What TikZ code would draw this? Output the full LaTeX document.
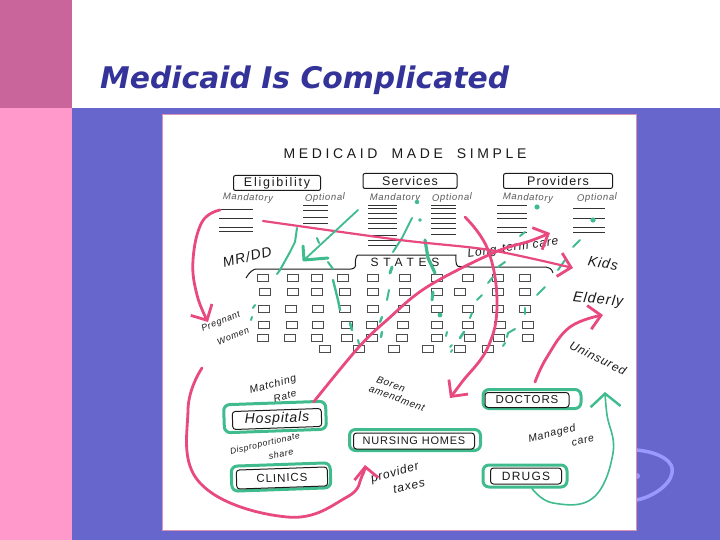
\documentclass[tikz,border=0pt]{standalone}
\usepackage{fontspec}
\setmainfont{Liberation Sans}
\newfontfamily\titlefont{DejaVu Sans}
\usetikzlibrary{arrows.meta,bending}
\definecolor{darkpink}{HTML}{C9659A}
\definecolor{lightpink}{HTML}{FF99CC}
\definecolor{slide}{HTML}{6666CC}
\definecolor{titleblue}{HTML}{333399}
\definecolor{pinkline}{HTML}{E8497F}
\definecolor{greenline}{HTML}{3FBB8E}
\definecolor{inkline}{HTML}{1A1A1A}
\definecolor{swirl}{HTML}{9999FF}
\tikzset{
  x=1pt,y=-1pt,
  hand/.style={font=\fontsize{#1}{#1}\selectfont\itshape\addfontfeature{LetterSpace=7},text=inkline,inner sep=0pt,align=center},
  hand/.default=10,
  headbox/.style={draw=inkline,line width=1pt,rounded corners=2pt,minimum height=15pt,inner sep=0pt,font=\fontsize{12.5}{13}\selectfont\addfontfeature{LetterSpace=9},text=inkline},
  provbox/.style={draw=inkline,line width=1pt,rounded corners=3pt,minimum height=15pt,inner sep=0pt,text=inkline},
  halo/.style={draw=greenline,line width=3pt,rounded corners=6pt,inner sep=0pt},
  statebox/.style={draw=black!70,line width=.7pt,minimum width=11pt,minimum height=6.5pt,inner sep=0pt},
  pinkarrow/.style={draw=pinkline,line width=2.8pt,line cap=round,line join=round,-{Straight Barb[length=12pt,width=24pt,line width=2.8pt,quick]}},
  greenarrow/.style={draw=greenline,line cap=round,line join=round},
  bit/.style={draw=greenline,line width=2pt,line cap=round},
  subline/.style={draw=black!80,line width=.7pt},
}
\begin{document}
\begin{tikzpicture}
\useasboundingbox (0,0) rectangle (720,540);
% slide background
\fill[white] (0,0) rectangle (720,540);
\fill[darkpink] (0,0) rectangle (72,108);
\fill[lightpink] (0,108) rectangle (72,540);
\fill[slide] (72,108) rectangle (720,540);
\draw[swirl,line width=3.5pt] (636,450) .. controls (660,452) and (675,462) .. (672,473) .. controls (670,486) and (650,498) .. (636,500);
\fill[swirl] (637,476) circle (3);
\node[anchor=base west,inner sep=0pt,text=titleblue,font=\fontsize{29.8}{30}\titlefont\bfseries\itshape] (title) at (100,89) {Medicaid Is Complicated};
% panel
\fill[white] (162.5,114.5) rectangle (636,530);
\draw[color=darkpink!70,line width=1pt] (162.5,114.5) rectangle (636,530);
% headings
\node[inner sep=0pt,text=inkline,font=\fontsize{14}{15}\selectfont] (heading) at (405,154) {\addfontfeature{LetterSpace=26}MEDICAID\quad MADE\quad SIMPLE};
\node[headbox,minimum width=87pt] (elig) at (277,183) {\addfontfeature{LetterSpace=14}Eligibility};
\node[headbox,minimum width=94pt] (serv) at (410,181) {Services};
\node[headbox,minimum width=109pt] (prov) at (558,181) {Providers};
\foreach \n/\x/\t/\r in {m1/248/Mandatory/-2,o1/325/Optional/2,m2/395/Mandatory/0,o2/452/Optional/2,m3/528/Mandatory/-2,o3/597/Optional/2}
  \node[hand=9.5,rotate=\r,text=black!65] (\n) at (\x,198) {\t};
% sub lists
\foreach \y in {209,218,227,231} \draw[subline] (219,\y) -- (253,\y);
\foreach \y in {205,210,217,223} \draw[subline] (303,\y) -- (328,\y);
\foreach \y in {205,208,213,218,223,228,235,240,245} \draw[subline] (368,\y) -- (397,\y);
\foreach \y in {205,208,213,218,223,228,234} \draw[subline] (431,\y) -- (456,\y);
\foreach \y in {205,213,218,227,232} \draw[subline] (497,\y) -- (527,\y);
\foreach \y in {208,218,227,232} \draw[subline] (573,\y) -- (605,\y);
% states frame
\coordinate (fa) at (246,278);\coordinate (fb) at (553,273);
\draw[inkline,line width=1pt,rounded corners=6pt] (fa) .. controls (249,272) and (254,269) .. (262,269) -- (357,269) .. controls (355,262) and (356,255) .. (364,255) -- (450,255) .. controls (456,255) and (455,266) .. (464,267) -- (540,267) .. controls (549,267) and (552,269) .. (fb);
\node[inner sep=0pt,text=inkline,font=\fontsize{12}{12}\selectfont] (states) at (405,262) {\addfontfeature{LetterSpace=40}STATES};
% state boxes
\foreach \r/\y/\xs in {
 a/278/{263,293,317,343,373,405,437,468,498,525},
 b/292/{265,293,317,345,373,405,437,460,498,525},
 c/309/{264,291,318,345,373,404,437,468,498,525},
 d/325/{264,292,318,347,372,403,437,468,500,528},
 e/338/{263,290,317,347,372,402,437,470,499,528},
 f/349/{325,359,394,428,460,488}}
 \foreach \x [count=\c] in \xs
  \node[statebox] (s\r\c) at (\x,\y) {};
% green bits
\draw[bit] (297,228) -- (295,242) -- (290,252) -- (280,270) -- (277,274);
\draw[bit] (317,238) -- (319,243);
\draw[bit] (328,262) -- (333,269);
\draw[bit] (412,218) -- (402,238) -- (393,252);
\draw[bit,line width=3.2pt] (425,240) -- (428,258) -- (435,273);
\draw[bit] (525,232) -- (520,236);
\draw[bit] (580,240) -- (573,247);
\draw[bit] (505,262) -- (498,267);
\draw[bit] (565,260) -- (558,270);
\draw[bit] (493,277) -- (488,283);
\draw[bit] (545,287) -- (537,295);
\draw[bit,line width=3pt] (392,267) -- (390,273);
\draw[bit] (389,290) -- (387,300);
\draw[bit] (482,295) -- (477,300);
\draw[bit,line width=2.4pt] (333,280) -- (338,300) -- (340,310);
\draw[bit,line width=3pt] (433,292) -- (432,300);
\draw[bit] (472,313) -- (470,318);
\draw[bit] (525,308) -- (525,314);
\draw[bit] (255,305) -- (253,308);
\draw[bit] (252,317) -- (251,320);
\draw[bit,line width=2.6pt] (350,323) -- (352,330);
\draw[bit,line width=2.4pt] (382,317) -- (380,322);
\draw[bit,line width=2.4pt] (382,332) -- (381,337);
\draw[bit] (358,340) -- (359,344);
\draw[bit] (447,332) -- (446,336);
\draw[bit,line width=2.6pt] (464,332) -- (460,338);
\draw[bit] (515,329) -- (508,333) -- (507,337);
\draw[bit] (505,343) -- (503,346);
\draw[bit] (452,345) -- (450,347);\draw[bit] (452,350) -- (451,352);
\fill[greenline] (417,202) circle (2.2) (537,207) circle (2.6) (593,220) circle (2.6) (420,220) circle (1.8) (440,315) circle (2.4);
% provider boxes
\node[halo,minimum width=102pt,minimum height=28pt,rotate=2] (hhalo) at (275,417) {};
\node[provbox,minimum width=89pt,minimum height=18pt,rotate=2,font=\fontsize{14}{15}\selectfont\itshape\addfontfeature{LetterSpace=6}] (hosp) at (277,419) {Hospitals};
\node[halo,minimum width=131pt,minimum height=21pt] (nhalo) at (415,440) {};
\node[provbox,minimum width=121pt,minimum height=16pt,font=\fontsize{11}{12}\selectfont\addfontfeature{LetterSpace=7}] (nurs) at (414,441) {NURSING HOMES};
\node[halo,minimum width=99pt,minimum height=25pt,rotate=2] (chalo) at (281,477) {};
\node[provbox,minimum width=91pt,minimum height=19pt,rotate=2,font=\fontsize{11.5}{12}\selectfont\addfontfeature{LetterSpace=8}] (clin) at (282,478) {CLINICS};
\node[halo,minimum width=98pt,minimum height=19pt] (dhalo) at (532,399) {};
\node[provbox,minimum width=84pt,minimum height=15pt,font=\fontsize{11.5}{12}\selectfont\addfontfeature{LetterSpace=8}] (doct) at (527,400) {DOCTORS};
\node[halo,minimum width=84pt,minimum height=22pt] (rhalo) at (525,476) {};
\node[provbox,minimum width=71pt,minimum height=16pt,font=\fontsize{12}{12}\selectfont\addfontfeature{LetterSpace=10}] (drug) at (526,476) {DRUGS};
% handwritten labels
\node[hand=14,rotate=14] (mrdd) at (247,257) {MR/DD};
\node[hand=12,rotate=8] (ltc) at (513,248) {Long-term care};
\node[hand=14,rotate=-10] (kids) at (603,263) {Kids};
\node[hand=14.5,rotate=-6] (eld) at (598,300) {Elderly};
\node[hand=12,rotate=-26] (unin) at (598,358) {Uninsured};
\node[hand=9,rotate=22] (preg) at (221,322) {Pregnant};
\node[hand=9,rotate=22] (wom) at (233,336) {Women};
\node[hand=10.5,rotate=15] (match) at (273,385) {Matching};
\node[hand=10,rotate=15] (rate) at (285,396) {Rate};
\node[hand=10,rotate=-20] (boren) at (391,384) {Boren};
\node[hand=10,rotate=-20] (amend) at (397,398) {amendment};
\node[hand=8.5,rotate=13] (disp) at (265,444) {Disproportionate};
\node[hand=9,rotate=11] (share) at (281,454) {share};
\node[hand=12,rotate=16] (ptax) at (395,473) {provider};
\node[hand=12,rotate=12] (taxes) at (409,486) {taxes};
\node[hand=10.5,rotate=14] (mcare) at (552,434) {Managed};
\node[hand=10.5,rotate=14] (cre) at (583,441) {care};
% pink connectors
\coordinate (p1s) at (220,210);\coordinate (p1e) at (208,322);
\draw[pinkarrow] plot[smooth,tension=.7] coordinates {(p1s) (202,222) (193,260) (197,295) (p1e)};
\coordinate (p2s) at (263,221);\coordinate (p2e) at (573,268);
\draw[pinkarrow,line width=2.2pt] plot[smooth,tension=.5] coordinates {(p2s) (400,240) (490,250) (p2e)};
\coordinate (p3e) at (550,233);
\draw[pinkarrow] plot[smooth,tension=.6] coordinates {([xshift=-8pt,yshift=6pt]hosp.north east) (358,348) (387,320) (427,287) (493,253) (530,241) (p3e)};
\coordinate (p4s) at (465,217);\coordinate (p4e) at (450,398);
\draw[pinkarrow] plot[smooth,tension=.7] coordinates {(p4s) (488,250) (497,303) (488,347) (462,382) (p4e)};
\coordinate (p5e) at (603,315);
\draw[pinkarrow] plot[smooth,tension=.7] coordinates {([xshift=8pt,yshift=10pt]doct.north) (547,357) (570,327) (p5e)};
\coordinate (p6s) at (202,368);\coordinate (p6e) at (365,465);
\draw[pinkarrow] plot[smooth,tension=.7] coordinates {(p6s) (188,410) (200,483) (287,517) (347,497) (362,476) (p6e)};
% green connectors
\coordinate (g1s) at (358,210);\coordinate (g1e) at (304,260);
\draw[greenarrow,line width=1.8pt] (g1s) -- (g1e);
\coordinate (g1a) at (303,246);\coordinate (g1b) at (328,258);
\draw[greenarrow,line width=3pt] (g1a) -- (g1e) -- (g1b);
\coordinate (g2e) at (605,392);
\draw[greenarrow,line width=1.6pt,-{Straight Barb[length=13pt,width=30pt,line width=2.4pt,quick]}] plot[smooth,tension=.7] coordinates {([xshift=6pt,yshift=-4pt]drug.south) (553,503) (593,498) (613,453) (607,415) (g2e)};
\end{tikzpicture}
\end{document}
